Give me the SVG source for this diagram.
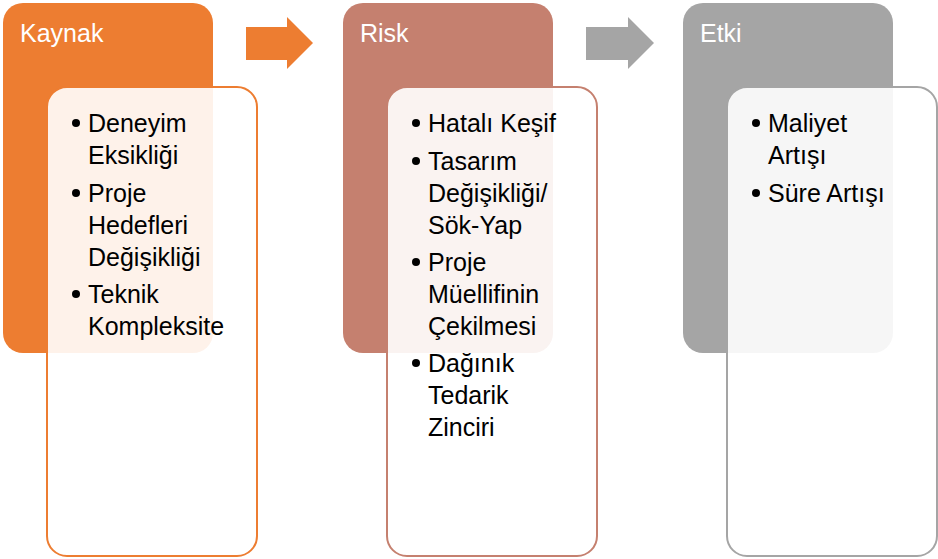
<svg xmlns="http://www.w3.org/2000/svg" width="938" height="559" viewBox="0 0 938 559">
<style>
.t{font-family:"Liberation Sans",Arial,sans-serif;font-size:25px;fill:#000}
.h{font-family:"Liberation Sans",Arial,sans-serif;font-size:25px;fill:#fff}
.inner{fill:#fff;fill-opacity:0.9;stroke-width:2}
</style>
<rect width="938" height="559" fill="#fff"/>
<g id="connectors">
<polygon points="246,27 287,27 287,17 313,43 287,69 287,60 246,60" fill="#ED7D31"/>
<polygon points="586,27 628,27 628,17 654,43 628,69 628,60 586,60" fill="#A5A5A5"/>
</g>
<g id="kaynak">
<rect x="3" y="3" width="210" height="350" rx="20" fill="#ED7D31"/>
<text class="h" x="20" y="42">Kaynak</text>
<rect class="inner" x="47" y="87" width="210" height="469" rx="20" stroke="#ED7D31"/>
<g fill="#000">
<circle cx="76" cy="123" r="4"/><circle cx="76" cy="193" r="4"/><circle cx="76" cy="294" r="4"/>
</g>
<text class="t"><tspan x="88" y="132">Deneyim</tspan><tspan x="88" y="164">Eksikliği</tspan><tspan x="88" y="202">Proje</tspan><tspan x="88" y="234">Hedefleri</tspan><tspan x="88" y="266">Değişikliği</tspan><tspan x="88" y="303">Teknik</tspan><tspan x="88" y="335">Kompleksite</tspan></text>
</g>
<g id="risk">
<rect x="343" y="3" width="210" height="350" rx="20" fill="#C5806F"/>
<text class="h" x="360" y="42">Risk</text>
<rect class="inner" x="387" y="87" width="210" height="469" rx="20" stroke="#C5806F"/>
<g fill="#000">
<circle cx="416" cy="123" r="4"/><circle cx="416" cy="161" r="4"/><circle cx="416" cy="262" r="4"/><circle cx="416" cy="363" r="4"/>
</g>
<text class="t"><tspan x="428" y="132">Hatalı Keşif</tspan><tspan x="428" y="170">Tasarım</tspan><tspan x="428" y="202">Değişikliği/</tspan><tspan x="428" y="234">Sök-Yap</tspan><tspan x="428" y="271">Proje</tspan><tspan x="428" y="303">Müellifinin</tspan><tspan x="428" y="335">Çekilmesi</tspan><tspan x="428" y="372">Dağınık</tspan><tspan x="428" y="404">Tedarik</tspan><tspan x="428" y="436">Zinciri</tspan></text>
</g>
<g id="etki">
<rect x="683" y="3" width="210" height="350" rx="20" fill="#A5A5A5"/>
<text class="h" x="700" y="42">Etki</text>
<rect class="inner" x="727" y="87" width="210" height="469" rx="20" stroke="#A5A5A5"/>
<g fill="#000">
<circle cx="756" cy="123" r="4"/><circle cx="756" cy="193" r="4"/>
</g>
<text class="t"><tspan x="768" y="132">Maliyet</tspan><tspan x="768" y="164">Artışı</tspan><tspan x="768" y="202">Süre Artışı</tspan></text>
</g>
</svg>
